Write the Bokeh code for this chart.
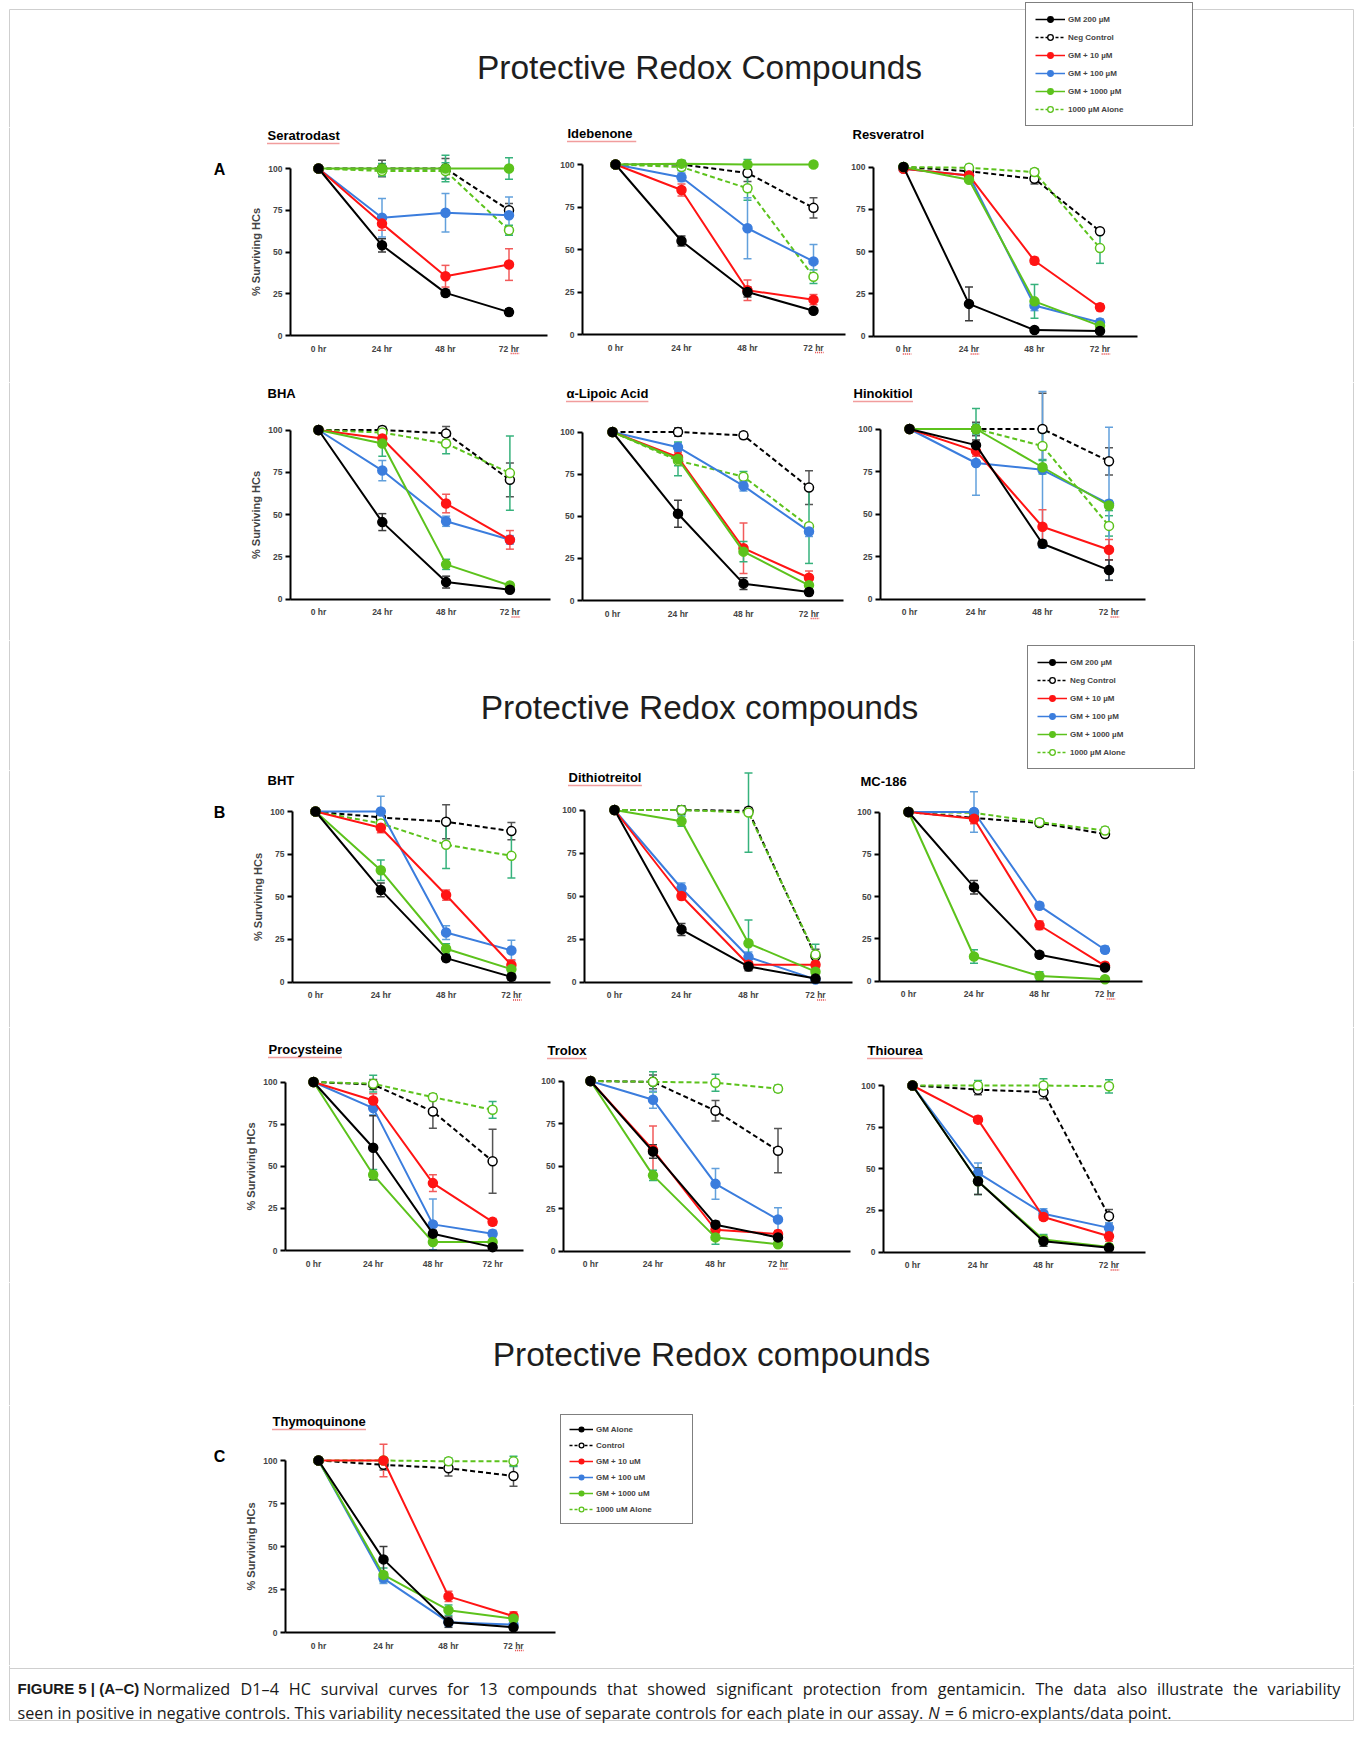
from bokeh.plotting import figure
from bokeh.models import Range1d, FixedTicker, ColumnDataSource, Whisker, TeeHead, Legend, LegendItem
from bokeh.layouts import column, row
from bokeh.embed import file_html
from bokeh.resources import INLINE
from bokeh.core.properties import value

# ---------------- data ----------------
TIME_LABELS = ["0 hr", "24 hr", "48 hr", "72 hr"]
Y_TICKS = [0, 25, 50, 75, 100]
Y_LABEL = "% Surviving HCs"
LEGEND_AB = ["GM 200 µM", "Neg Control", "GM + 10 µM", "GM + 100 µM", "GM + 1000 µM", "1000 µM Alone"]
LEGEND_C = ["GM Alone", "Control", "GM + 10 uM", "GM + 100 uM", "GM + 1000 uM", "1000 uM Alone"]
MAIN_TITLES = ["Protective Redox Compounds", "Protective Redox compounds", "Protective Redox compounds"]

# series order: GM, Neg control, GM+10, GM+100, GM+1000, 1000 alone
seratrodast_mean = [[100, 54, 25.5, 14], [100, 100, 100, 75], [100, 67, 35.5, 42.5],
                    [100, 70.5, 73.5, 72], [100, 100, 100, 100], [100, 98.5, 98.5, 63]]
seratrodast_err = [[0, 4, 2, 2], [0, 5, 6, 4], [0, 4, 6.5, 9.5],
                   [0, 11.5, 11.5, 11], [0, 3, 8, 6.5], [0, 3, 5, 3]]
idebenone_mean = [[100, 55, 25, 14], [100, 100, 95, 74.5], [100, 85, 26, 20.5],
                  [100, 92.5, 62.5, 43], [100, 100.5, 100, 100], [100, 98.5, 86, 34]]
idebenone_err = [[0, 3, 3, 1.5], [0, 2, 5, 6], [0, 3.5, 6, 3],
                 [0, 2.5, 18, 10], [0, 2, 3, 1], [0, 2, 7, 4]]
resveratrol_mean = [[100, 19, 3.5, 3], [100, 97.5, 93, 62], [99, 95, 44.5, 17],
                    [99, 95, 18, 8], [100, 92.5, 20.5, 6], [100, 99.5, 97, 52]]
resveratrol_err = [[0, 10, 1, 1], [0, 3, 3, 1.5], [0, 2, 2, 2],
                   [0, 2, 3, 2], [0, 1.5, 10, 2], [0, 2, 2, 9]]
bha_mean = [[100, 45.5, 10, 5.5], [100, 100, 98, 70.5], [100, 95, 56.5, 35],
            [100, 76, 46, 35], [100, 92, 20.5, 8], [100, 98.5, 92, 74.5]]
bha_err = [[0, 5, 3.5, 1.5], [0, 2, 4, 10], [0, 2, 5.5, 5.5],
           [0, 6, 3, 2.5], [0, 7.5, 3, 1.5], [0, 3, 6, 22]]
lipoic_mean = [[100, 51.5, 10, 5], [100, 100, 98, 67], [100, 85, 31, 13.5],
               [100, 91, 68, 41], [100, 84, 29, 9], [100, 83, 73.5, 44]]
lipoic_err = [[0, 8, 3.5, 2], [0, 2.5, 2, 10], [0, 3, 15, 4],
              [0, 2.5, 3, 3], [0, 10, 6, 3], [0, 3, 3, 22]]
hinokitiol_mean = [[100, 90.5, 32.5, 17], [100, 100, 100, 81], [100, 87, 42.5, 29],
                   [100, 80, 76, 56], [100, 100, 77.5, 55], [100, 100, 90, 43]]
hinokitiol_err = [[0, 3, 2, 6], [0, 4, 21, 8], [0, 3, 10, 6],
                  [0, 19, 46, 45], [0, 12, 4, 3], [0, 3, 8, 6]]
bht_mean = [[100, 54, 14, 3], [100, 96.5, 94, 88.5], [100, 90.5, 51, 10],
            [100, 100, 29, 18.5], [100, 65.5, 19.5, 7.5], [100, 93, 80.5, 74]]
bht_err = [[0, 4, 2, 2], [0, 2, 10, 5], [0, 3, 3, 3],
           [0, 9, 4, 6], [0, 6, 3, 3], [0, 3, 14, 13]]
dtt_mean = [[100, 30.5, 9, 2], [100, 100, 99.5, 15], [100, 50, 10, 10],
            [100, 54.5, 14.5, 1.5], [100, 93.5, 22.5, 6], [100, 100, 98.5, 16]]
dtt_err = [[0, 3.5, 2.5, 1], [0, 2.5, 2, 4], [0, 2, 2, 2],
           [0, 3, 3, 1], [0, 3, 13.5, 3], [0, 2, 23, 6]]
mc186_mean = [[100, 55.5, 15.5, 8], [100, 96.5, 93.5, 87], [100, 96, 33, 9],
              [100, 100, 44.5, 18.5], [100, 14.5, 3, 1], [100, 99.5, 94, 89]]
mc186_err = [[0, 4, 1.5, 1.5], [0, 2, 2, 2], [0, 3, 2.5, 2],
             [0, 12, 2, 2], [0, 4, 2.5, 1], [0, 2, 2, 2]]
procysteine_mean = [[100, 61, 10, 2], [100, 98.5, 82.5, 53], [100, 89, 40, 17],
                    [100, 84.5, 15.5, 10], [100, 45, 5, 5], [100, 99, 91, 83.5]]
procysteine_err = [[0, 19, 2, 1], [0, 3, 10, 19], [0, 4, 5, 2],
                   [0, 4, 15, 2], [0, 3, 1, 1], [0, 5, 2, 5]]
trolox_mean = [[100, 58.5, 15.5, 8], [100, 99.5, 82.5, 59], [100, 59.5, 12.5, 10],
               [100, 89, 39.5, 18.5], [100, 44.5, 8, 4], [100, 99.5, 99, 95.5]]
trolox_err = [[0, 4, 2, 2], [0, 4, 6, 13], [0, 14, 2, 2],
              [0, 5, 9, 7], [0, 3, 4, 1.5], [0, 6, 5, 2]]
thiourea_mean = [[100, 42.5, 6.5, 2.5], [100, 97.5, 96, 21.5], [100, 79.5, 21, 9.5],
                 [100, 47.5, 23, 14.5], [100, 42.5, 7.5, 3], [100, 100, 100, 99.5]]
thiourea_err = [[0, 8, 3, 1], [0, 3, 4, 4], [0, 2, 2, 3],
                [0, 6, 3, 3], [0, 8, 3, 1], [0, 3, 4, 4]]
thymoquinone_mean = [[100, 42.5, 6, 3], [100, 97.5, 95.5, 91], [100, 100, 21, 9.5],
                     [100, 31.5, 6, 4.5], [100, 33.5, 13, 8], [100, 100, 99.5, 99.5]]
thymoquinone_err = [[0, 7.5, 3, 1.5], [0, 3, 4.5, 6], [0, 9.5, 3, 2.5],
                    [0, 3, 2, 2], [0, 4, 3, 2.5], [0, 1.5, 2, 3]]

CAPTION_BOLD = "FIGURE 5 | (A–C)"
CAPTION_1 = ("Normalized D1–4 HC survival curves for 13 compounds that showed significant protection "
             "from gentamicin. The data also illustrate the variability")
CAPTION_2A = ("seen in positive in negative controls. This variability necessitated the use of separate "
              "controls for each plate in our assay.")
CAPTION_2N = "N"
CAPTION_2B = "= 6 micro-explants/data point."

# ---------------- styles / layout ----------------
FONT = "Liberation Sans"
CAP_FONT = "Open Sans"
CAP_SIZE = 16.2
TIME_POS = list(range(len(TIME_LABELS)))
# line colour, error colour, dashed, open marker
STYLES = [
    ("#000000", "#3a3a3a", False, False),
    ("#000000", "#555555", True, True),
    ("#ff1414", "#f25a5a", False, False),
    ("#3b7ddd", "#62a0dc", False, False),
    ("#5cc21c", "#36b27c", False, False),
    ("#5cc21c", "#36b27c", True, True),
]
DRAW_ORDER = [1, 5, 3, 2, 4, 0]
PAGE_X0, PAGE_X1 = 0, 1354
BORDER = (9, 9, 1353, 1720)   # left, top, right, bottom of the light frame
SEP_Y = 1668
BORDER_COLOR = "#cfcfcf"
SQUIGGLE = "#e23a3a"

# per panel: y-axis x, 0hr x, px/unit x, x-axis end, y0 px, y100 px, title x, title y (page px)
LAY = {
    "Seratrodast": (290, 318, 63.5, 547, 335, 168, 267, 135),
    "Idebenone": (582, 615, 66, 845, 334, 164, 567, 133),
    "Resveratrol": (873, 903, 65.5, 1137, 335.5, 166.5, 852, 134),
    "BHA": (290, 318, 63.8, 550, 598.5, 429.5, 267, 393),
    "α-Lipoic Acid": (582, 612, 65.5, 843, 600, 431.5, 566, 393),
    "Hinokitiol": (880, 909, 66.5, 1145, 598.5, 428.5, 853, 393),
    "BHT": (292, 315, 65.3, 550, 981.5, 811, 267, 780),
    "Dithiotreitol": (584, 614, 67, 852, 981.5, 809.5, 568, 777),
    "MC-186": (879, 908, 65.5, 1142, 980.5, 811.5, 860, 781),
    "Procysteine": (285, 313, 59.7, 523, 1250, 1081.5, 268, 1049),
    "Trolox": (563, 590, 62.5, 850, 1250.5, 1080.5, 547, 1050),
    "Thiourea": (883, 912, 65.5, 1145, 1251.5, 1085, 867, 1050),
    "Thymoquinone": (285, 318, 65, 555, 1632, 1460, 272, 1421),
}
# spell-check squiggles seen in the source: (underline title?, tick indices with "hr" underlined)
SQUIG = {
    "Seratrodast": (True, [3]), "Idebenone": (True, [3]), "Resveratrol": (False, [0, 1, 3]),
    "BHA": (False, [3]), "α-Lipoic Acid": (True, [3]), "Hinokitiol": (True, [3]),
    "BHT": (False, [3]), "Dithiotreitol": (True, [3]), "MC-186": (False, [3]),
    "Procysteine": (True, []), "Trolox": (True, [3]), "Thiourea": (True, [3]),
    "Thymoquinone": (True, [3]),
}

# approximate Open Sans advance widths (units per 2048 em) for caption layout
OS_W = {" ": 532, ".": 545, "–": 1024, "/": 788, "=": 1171, "-": 659,
        "A": 1296, "C": 1292, "D": 1493, "H": 1511, "N": 1556, "T": 1124,
        "a": 1139, "b": 1255, "c": 975, "d": 1255, "e": 1149, "f": 694, "g": 1122,
        "h": 1257, "i": 518, "j": 518, "k": 1075, "l": 518, "m": 1905, "n": 1257,
        "o": 1237, "p": 1255, "q": 1255, "r": 836, "s": 977, "t": 723, "u": 1257,
        "v": 1026, "w": 1593, "x": 1073, "y": 1028, "z": 977}
# approximate Liberation Sans Bold advance widths (per 1000 em)
LB_W = {" ": 278, "-": 333, "α": 600, "A": 722, "B": 722, "C": 722, "D": 722, "H": 722,
        "L": 611, "M": 833, "P": 667, "R": 722, "S": 667, "T": 611,
        "a": 556, "b": 611, "c": 556, "d": 611, "e": 556, "f": 333, "g": 611, "h": 611,
        "i": 278, "k": 556, "l": 278, "m": 889, "n": 611, "o": 611, "p": 611, "q": 611,
        "r": 389, "s": 556, "t": 333, "u": 611, "v": 556, "x": 556, "y": 556, "z": 500}


def os_width(s, size):
    return sum(OS_W.get(ch, 1171) for ch in s) / 2048.0 * size


def lb_width(s, size):
    return sum(LB_W.get(ch, 556) for ch in s) / 1000.0 * size


def add_legend(p, labels, loc, off, glyph_w, pad, lab_w, h, sp):
    items = []
    for i, lab in enumerate(labels):
        c, ec, dashed, op = STYLES[i]
        lr = p.line(x=[off, off], y=[off, off], line_color=c, line_width=1.5,
                    line_dash="3 2" if dashed else "solid")
        sr = p.scatter(x=[off], y=[off], marker="circle", size=8, fill_color="white" if op else c,
                       line_color=c, line_width=1.3)
        items.append(LegendItem(label=lab, renderers=[lr, sr]))
    leg = Legend(items=items, location=loc, border_line_color="black", border_line_width=1,
                 background_fill_color="white", background_fill_alpha=1.0,
                 label_text_font=FONT, label_text_font_style="bold", label_text_font_size="8px",
                 glyph_width=glyph_w, glyph_height=h, label_height=h, label_standoff=3, spacing=sp,
                 padding=pad, margin=0, label_width=lab_w)
    p.add_layout(leg)


def frame_lines(p, X, Y, y0, y1, left, right):
    bl, bt, br, bb = BORDER
    ya = max(y0, bt)
    yb = min(y1, bb)
    xs = []
    if left:
        xs.append(bl)
    if right:
        xs.append(br)
    if xs and yb > ya:
        p.segment(x0=[X(v) for v in xs], y0=[Y(ya)] * len(xs), x1=[X(v) for v in xs],
                  y1=[Y(yb)] * len(xs), line_color=BORDER_COLOR, line_width=1)


TITLE_SIZE = 13
TICK_SIZE = 8.5


def make_panel(name, mean, err, box, ylabel=False, letter=None, legend=None, left=False, right=False):
    fx0, fx1, fy0, fy1 = box
    ax, p0, kx, xend, b0, y100, tx, ty = LAY[name]
    ky = (b0 - y100) / 100.0

    def X(px):
        return (px - p0) / kx

    def Y(py):
        return (b0 - py) / ky

    p = figure(width=int(fx1 - fx0), height=int(fy1 - fy0),
               x_range=Range1d(X(fx0), X(fx1)), y_range=Range1d(Y(fy1), Y(fy0)),
               output_backend="svg", toolbar_location=None, min_border=0)
    p.outline_line_color = None
    p.xgrid.visible = False
    p.ygrid.visible = False
    p.background_fill_color = "white"
    p.border_fill_color = "white"
    frame_lines(p, X, Y, fy0, fy1, left, right)

    xa = p.xaxis[0]
    xa.fixed_location = 0
    xa.bounds = (X(ax), X(xend))
    xa.ticker = FixedTicker(ticks=TIME_POS)
    xa.major_label_overrides = {t: lab for t, lab in zip(TIME_POS, TIME_LABELS)}
    xa.major_tick_out = 0
    xa.major_tick_in = 0
    xa.minor_tick_out = 0
    xa.axis_line_width = 2
    xa.major_label_text_font = FONT
    xa.major_label_text_font_style = "bold"
    xa.major_label_text_font_size = f"{TICK_SIZE}px"
    xa.major_label_standoff = 8

    ya = p.yaxis[0]
    ya.fixed_location = X(ax)
    ya.bounds = (0, 100)
    ya.ticker = FixedTicker(ticks=Y_TICKS)
    ya.major_tick_out = 5
    ya.major_tick_in = 0
    ya.minor_tick_out = 0
    ya.major_tick_line_width = 2
    ya.axis_line_width = 2
    ya.major_label_text_font = FONT
    ya.major_label_text_font_style = "bold"
    ya.major_label_text_font_size = f"{TICK_SIZE}px"
    ya.major_label_standoff = 3
    if ylabel:
        ya.axis_label = Y_LABEL
        ya.axis_label_text_font = FONT
        ya.axis_label_text_font_style = "bold"
        ya.axis_label_text_font_size = "11px"
        ya.axis_label_standoff = 3

    for i in DRAW_ORDER:
        c, ec, dashed, op = STYLES[i]
        m = mean[i]
        e = err[i]
        src = ColumnDataSource(dict(x=TIME_POS, y=m,
                                    upper=[a + b for a, b in zip(m, e)],
                                    lower=[a - b for a, b in zip(m, e)]))
        w = Whisker(source=src, base="x", upper="upper", lower="lower",
                    line_color=ec, line_width=1.5,
                    upper_head=TeeHead(size=8, line_color=ec, line_width=1.5),
                    lower_head=TeeHead(size=8, line_color=ec, line_width=1.5))
        p.add_layout(w)
        p.line("x", "y", source=src, line_color=c, line_width=2,
               line_dash="5 3" if dashed else "solid")
        p.scatter("x", "y", source=src, marker="circle", size=9,
                  fill_color="white" if op else c, line_color=c, line_width=1.5)

    p.text(x=[X(tx)], y=[Y(ty)], text=[name], text_font=value(FONT), text_font_style="bold",
           text_font_size=f"{TITLE_SIZE}px", text_baseline="middle", text_align="left",
           text_color="black")

    # red spell-check squiggles of the source document
    u_title, u_ticks = SQUIG[name]
    sx0, sx1, sy = [], [], []
    if u_title:
        sx0.append(X(tx))
        sx1.append(X(tx + lb_width(name, TITLE_SIZE)))
        sy.append(Y(ty + 8))
    for t in u_ticks:
        lab = TIME_LABELS[t]
        wl = lb_width(lab, TICK_SIZE)
        sx0.append(t + (-wl / 2 + lb_width(lab[:-2], TICK_SIZE)) / kx)
        sx1.append(t + (wl / 2) / kx)
        sy.append(Y(b0 + 18))
    if sx0:
        p.segment(x0=sx0, y0=sy, x1=sx1, y1=sy, line_color=SQUIGGLE, line_width=1.3,
                  line_dash="1 1")

    if letter is not None:
        lt, lx, ly = letter
        p.text(x=[X(lx)], y=[Y(ly)], text=[lt], text_font=value(FONT), text_font_style="bold",
               text_font_size="16px", text_baseline="middle", text_align="center", text_color="black")
    if legend is not None:
        labels, (lx, lbottom) = legend
        add_legend(p, labels, (lx - fx0, fy1 - lbottom), -1000, 24, 8, 88, 12, 4)
    return p


def make_band(y0, y1):
    p = figure(width=PAGE_X1 - PAGE_X0, height=y1 - y0,
               x_range=Range1d(PAGE_X0, PAGE_X1), y_range=Range1d(y1, y0),
               output_backend="svg", toolbar_location=None, min_border=0)
    p.xaxis.visible = False
    p.yaxis.visible = False
    p.xgrid.visible = False
    p.ygrid.visible = False
    p.outline_line_color = None
    p.background_fill_color = "white"
    p.border_fill_color = "white"
    frame_lines(p, lambda v: v, lambda v: v, y0, y1, True, True)
    return p


def main_title(p, txt, x, y):
    p.text(x=[x], y=[y], text=[txt], text_font=value(FONT), text_font_size="33.5px",
           text_baseline="middle", text_align="center", text_color="#1e1e1e")


# rows (page y extents)
Y_T1 = (0, 127)
Y_A1 = (127, 382)
Y_A2 = (382, 640)
Y_T2 = (640, 770)
Y_B1 = (770, 1027)
Y_B2 = (1027, 1282)
Y_T3 = (1282, 1405)
Y_C = (1405, 1665)
Y_CAP = (1665, 1735)

band1 = make_band(*Y_T1)
band1.segment(x0=[BORDER[0]], y0=[BORDER[1]], x1=[BORDER[2]], y1=[BORDER[1]],
              line_color=BORDER_COLOR, line_width=1)
main_title(band1, MAIN_TITLES[0], 699, 67)
add_legend(band1, LEGEND_AB, (1025 - PAGE_X0, 1), -1000, 30, 9, 115, 14, 4)


def panel_row(names, means, errs, yext, cols, letter=None):
    figs = []
    for k, (nm, m, e) in enumerate(zip(names, means, errs)):
        box = (cols[k][0], cols[k][1], yext[0], yext[1])
        figs.append(make_panel(nm, m, e, box, ylabel=(k == 0),
                               letter=letter if k == 0 else None,
                               left=(k == 0), right=(k == 2)))
    return row(*figs)


COLS_A = [(0, 555), (555, 848), (848, 1354)]
COLS_B1 = [(0, 555), (555, 856), (856, 1354)]
COLS_B2 = [(0, 535), (535, 858), (858, 1354)]

rowA1 = panel_row(["Seratrodast", "Idebenone", "Resveratrol"],
                  [seratrodast_mean, idebenone_mean, resveratrol_mean],
                  [seratrodast_err, idebenone_err, resveratrol_err], Y_A1, COLS_A, ("A", 219, 169))
rowA2 = panel_row(["BHA", "α-Lipoic Acid", "Hinokitiol"],
                  [bha_mean, lipoic_mean, hinokitiol_mean],
                  [bha_err, lipoic_err, hinokitiol_err], Y_A2, COLS_A)

band2 = make_band(*Y_T2)
main_title(band2, MAIN_TITLES[1], 699, 707)
add_legend(band2, LEGEND_AB, (1027 - PAGE_X0, 1), -1000, 30, 9, 115, 14, 4)

rowB1 = panel_row(["BHT", "Dithiotreitol", "MC-186"],
                  [bht_mean, dtt_mean, mc186_mean],
                  [bht_err, dtt_err, mc186_err], Y_B1, COLS_B1, ("B", 219, 812))
rowB2 = panel_row(["Procysteine", "Trolox", "Thiourea"],
                  [procysteine_mean, trolox_mean, thiourea_mean],
                  [procysteine_err, trolox_err, thiourea_err], Y_B2, COLS_B2)

band3 = make_band(*Y_T3)
main_title(band3, MAIN_TITLES[2], 711, 1354)

figC = make_panel("Thymoquinone", thymoquinone_mean, thymoquinone_err,
                  (PAGE_X0, PAGE_X1, Y_C[0], Y_C[1]), ylabel=True, letter=("C", 219, 1456),
                  legend=(LEGEND_C, (560, 1524)), left=True, right=True)

# ---------------- caption ----------------
cap = make_band(*Y_CAP)
cap.segment(x0=[BORDER[0], BORDER[0]], y0=[SEP_Y, BORDER[3]], x1=[BORDER[2], BORDER[2]],
            y1=[SEP_Y, BORDER[3]], line_color=BORDER_COLOR, line_width=1)
CAP_X0, CAP_X1 = 17, 1340
LINE1_Y, LINE2_Y = 1688, 1712
cap.text(x=[CAP_X0], y=[LINE1_Y], text=[CAPTION_BOLD], text_font=value(FONT), text_font_style="bold",
         text_font_size="15px", text_baseline="middle", text_align="left", text_color="#1a1a1a")
# justified first line: distribute the words between the bold lead-in and the right margin
words = CAPTION_1.split(" ")
ww = [os_width(wd, CAP_SIZE) for wd in words]
start = 142.5
gap = (CAP_X1 - start - sum(ww)) / (len(words) - 1)
xs = []
xcur = start
for wdt in ww:
    xs.append(xcur)
    xcur += wdt + gap
cap.text(x=xs, y=[LINE1_Y] * len(words), text=words, text_font=value(CAP_FONT),
         text_font_size=f"{CAP_SIZE}px", text_baseline="middle", text_align="left", text_color="#1a1a1a")
space = os_width(" ", CAP_SIZE)
xn = CAP_X0 + os_width(CAPTION_2A, CAP_SIZE) + space
xb = xn + os_width(CAPTION_2N, CAP_SIZE) + space
cap.text(x=[CAP_X0], y=[LINE2_Y], text=[CAPTION_2A], text_font=value(CAP_FONT),
         text_font_size=f"{CAP_SIZE}px", text_baseline="middle", text_align="left", text_color="#1a1a1a")
cap.text(x=[xn], y=[LINE2_Y], text=[CAPTION_2N], text_font=value(CAP_FONT), text_font_style="italic",
         text_font_size=f"{CAP_SIZE}px", text_baseline="middle", text_align="left", text_color="#1a1a1a")
cap.text(x=[xb], y=[LINE2_Y], text=[CAPTION_2B], text_font=value(CAP_FONT),
         text_font_size=f"{CAP_SIZE}px", text_baseline="middle", text_align="left", text_color="#1a1a1a")

layout = column(band1, rowA1, rowA2, band2, rowB1, rowB2, band3, figC, cap)

with open("out.html", "w") as f:
    f.write(file_html(layout, INLINE))
